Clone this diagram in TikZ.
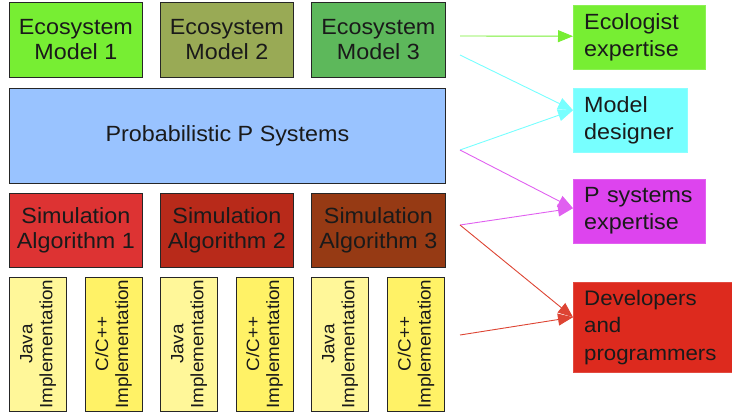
\documentclass[tikz,border=0pt]{standalone}
\usepackage{fontspec}
\setmainfont[FakeStretch=1.06]{Liberation Sans}
\usetikzlibrary{arrows.meta}
\definecolor{ecoA}{HTML}{77EE33}
\definecolor{ecoB}{HTML}{99AA55}
\definecolor{ecoC}{HTML}{5DB85B}
\definecolor{pblue}{HTML}{99C3FF}
\definecolor{simA}{HTML}{DD3333}
\definecolor{simB}{HTML}{B82A1A}
\definecolor{simC}{HTML}{963A14}
\definecolor{yelA}{HTML}{FFF799}
\definecolor{yelB}{HTML}{FFF266}
\definecolor{rcyan}{HTML}{77FFFF}
\definecolor{rmag}{HTML}{DD44EE}
\definecolor{rred}{HTML}{DD2A1E}
\definecolor{lmag}{HTML}{E060F0}
\definecolor{lred}{HTML}{DD4433}
\definecolor{txt}{HTML}{1A1A1A}
\begin{document}
\begin{tikzpicture}[x=1pt,y=-1pt,
  box/.style={draw=black!85, line width=0.8pt, text=txt, align=center,
    font=\fontsize{22}{25}\selectfont, inner sep=0pt, anchor=north west},
  impl/.style={draw=black!85, line width=0.8pt, text=txt, align=center,
    font=\fontsize{17.8}{20}\selectfont, inner sep=0pt, rotate=90,
    minimum width=134pt, minimum height=57pt},
  role/.style={draw=#1!85!white, fill=#1, text=txt, align=left,
    font=\fontsize{22}{27}\selectfont, inner xsep=11pt, inner ysep=0pt, anchor=north west},
  link/.style={line width=0.9pt, -{Triangle[length=15pt,width=12pt]}}
]
\useasboundingbox (0,0) rectangle (732,413);
% top row
\node[box, fill=ecoA, minimum width=133pt, minimum height=75pt] (e1) at (9,2) {Ecosystem\\Model 1};
\node[box, fill=ecoB, minimum width=133pt, minimum height=75pt] (e2) at (160,2) {Ecosystem\\Model 2};
\node[box, fill=ecoC, minimum width=134pt, minimum height=75pt] (e3) at (311,2) {Ecosystem\\Model 3};
% probabilistic
\node[box, fill=pblue, minimum width=436pt, minimum height=95pt] (pps) at (9,88) {Probabilistic P Systems};
% simulation
\node[box, fill=simA, minimum width=133pt, minimum height=74pt] (s1) at (9,193) {Simulation\\Algorithm 1};
\node[box, fill=simB, minimum width=133pt, minimum height=74pt] (s2) at (160,193) {Simulation\\Algorithm 2};
\node[box, fill=simC, minimum width=134pt, minimum height=74pt] (s3) at (311,193) {Simulation\\Algorithm 3};
% implementations
\node[impl, fill=yelA] (j1) at (38,344) {Java\\Implementation};
\node[impl, fill=yelB] (c1) at (113.5,344) {C/C++\\Implementation};
\node[impl, fill=yelA] (j2) at (189,344) {Java\\Implementation};
\node[impl, fill=yelB] (c2) at (264.5,344) {C/C++\\Implementation};
\node[impl, fill=yelA] (j3) at (340,344) {Java\\Implementation};
\node[impl, fill=yelB] (c3) at (416,344) {C/C++\\Implementation};
% roles
\node[role=ecoA, text width=110pt, minimum height=64pt] (eco) at (573,5) {Ecologist\\expertise};
\node[role=rcyan, text width=92pt, minimum height=64pt] (md) at (573,88) {Model\\designer};
\node[role=rmag, text width=110pt, minimum height=64pt] (ps) at (573,179) {P systems\\expertise};
\node[role=rred, text width=137pt, minimum height=90pt, font=\fontsize{21}{27.5}\selectfont] (dev) at (573,282) {Developers\\and\\programmers};
% connector origins
\coordinate (oA) at (460,36);
\coordinate (oB) at (460,55);
\coordinate (oC) at (460,150);
\coordinate (oD) at (460,225);
\coordinate (oE) at (460,335);
% connectors
\draw[link, ecoA] (oA) -- ([yshift=1pt]eco.west);
\draw[link, rcyan] (oB) -- ([yshift=10pt]md.west);
\draw[link, rcyan] (oC) -- ([yshift=10pt]md.west);
\draw[link, lmag] (oC) -- ([yshift=3pt]ps.west);
\draw[link, lmag] (oD) -- ([yshift=3pt]ps.west);
\draw[link, lred] (oD) -- ([yshift=10pt]dev.west);
\draw[link, lred] (oE) -- ([yshift=10pt]dev.west);
\end{tikzpicture}
\end{document}
